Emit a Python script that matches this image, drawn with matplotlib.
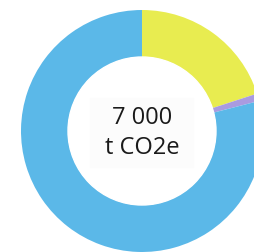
import matplotlib
matplotlib.use('Agg')
import matplotlib.pyplot as plt
from matplotlib.patches import Rectangle

# Data (shares of total emissions, %)
labels = ['Yellow', 'Purple', 'Blue']
values = [20, 1, 79]
colors = ['#e8ec50', '#a99be0', '#5bb8e8']
total_text = ['7 000', 't CO2e']

fig = plt.figure(figsize=(2.55, 2.52), dpi=100)
ax = fig.add_axes([0, 0, 1, 1])

ax.pie(values, colors=colors, center=(142, 121), radius=121,
       startangle=90, counterclock=False,
       wedgeprops=dict(width=47, linewidth=0))
ax.add_patch(plt.Circle((142, 121), 74, color='white', zorder=1))

# faint box behind the label
ax.add_patch(Rectangle((90, 252 - 167), 103, 69, color='#fcfcfc', zorder=2))

ax.text(142, 252 - 118, total_text[0], ha='center', va='center',
        fontsize=17, family='Open Sans', color='#1a1a1a', zorder=3)
ax.text(142, 252 - 148, total_text[1], ha='center', va='center',
        fontsize=17, family='Open Sans', color='#1a1a1a', zorder=3)

ax.set_xlim(0, 255)
ax.set_ylim(0, 252)
ax.set_aspect('auto')
ax.axis('off')
plt.savefig('out.png', dpi=100)
plt.close()
